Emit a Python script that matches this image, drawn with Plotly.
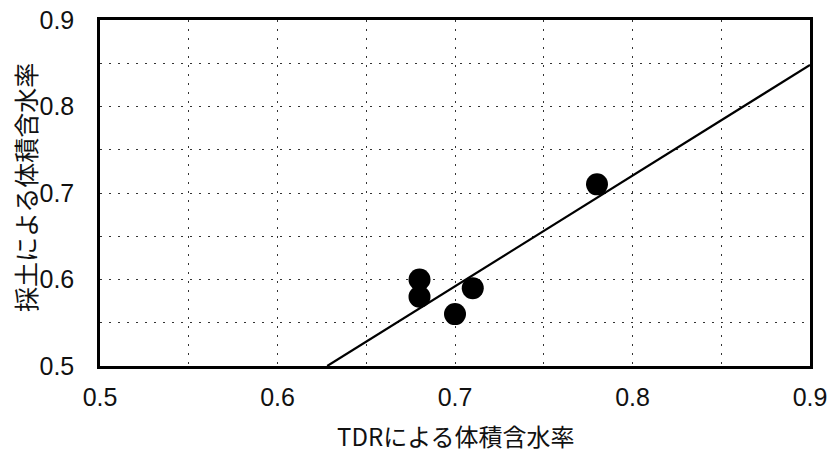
import plotly.graph_objects as go

# Volumetric water content: TDR reading vs. soil sampling
tdr_theta = [0.68, 0.68, 0.70, 0.71, 0.78]
sample_theta = [0.60, 0.58, 0.56, 0.59, 0.71]

# Fitted line endpoints (x range of the drawn line and its y values)
fit_x = [0.628, 0.90]
fit_y = [0.50, 0.848]

x_ticks = [0.5, 0.6, 0.7, 0.8, 0.9]
y_ticks = [0.5, 0.6, 0.7, 0.8, 0.9]

x_title = "TDRによる体積含水率"
y_title = "採土による体積含水率"

fig = go.Figure()
fig.add_trace(go.Scatter(
    x=fit_x, y=fit_y, mode="lines",
    line=dict(color="black", width=2.2),
    showlegend=False, cliponaxis=True,
))
fig.add_trace(go.Scatter(
    x=tdr_theta, y=sample_theta, mode="markers",
    marker=dict(color="black", size=22),
    showlegend=False, cliponaxis=False,
))

tick_font = dict(family="Liberation Sans Narrow, Liberation Sans", size=25, color="#111")
title_font = dict(family="Noto Sans CJK JP", size=24, color="#111")
grid = dict(showgrid=True, gridcolor="#333", griddash="2px,7px", gridwidth=1)

common = dict(
    range=[0.5, 0.9], **grid,
    minor=dict(dtick=0.05, **grid),
    showline=True, linecolor="black", linewidth=2.5, mirror=True,
    ticks="", zeroline=False, tickfont=tick_font, automargin=False,
)
fig.update_xaxes(tickvals=x_ticks, ticktext=[f"{v:.1f}" for v in x_ticks],
                 ticklabelstandoff=7, **common)
fig.update_yaxes(tickvals=y_ticks, ticktext=[f"{v:.1f}" for v in y_ticks],
                 ticklabelstandoff=18, **common)

fig.add_annotation(text=x_title, xref="paper", yref="paper", x=0.5, y=0,
                   xanchor="center", yanchor="middle", yshift=-69,
                   showarrow=False, font=title_font)
fig.add_annotation(text=y_title, xref="paper", yref="paper", x=0, y=0.5,
                   xanchor="center", yanchor="middle", xshift=-75, yshift=5,
                   textangle=-90, showarrow=False,
                   font=dict(family="Noto Sans CJK JP", size=25, color="#111"))

fig.update_layout(
    width=833, height=455,
    margin=dict(l=100, r=23, t=20, b=89),
    paper_bgcolor="white", plot_bgcolor="white",
)
fig.write_html("out.html")
